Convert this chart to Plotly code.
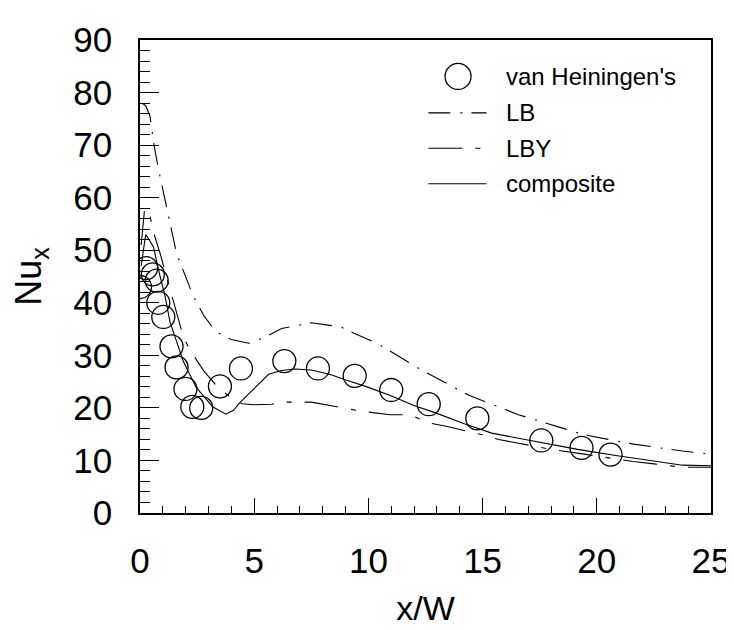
import plotly.graph_objects as go

# van Heiningen's data (circles)
vh_x = [0.0, 0.27, 0.56, 0.73, 0.8, 1.02, 1.38, 1.6, 1.99, 2.29, 2.68, 3.5, 4.42,
        6.32, 7.79, 9.4, 11.0, 12.64, 14.77, 17.57, 19.33, 20.6]
vh_y = [43.0, 46.6, 45.4, 44.2, 40.0, 37.3, 31.7, 27.7, 23.6, 20.2, 20.0, 24.1, 27.5,
        28.9, 27.5, 26.1, 23.4, 20.7, 18.0, 13.8, 12.4, 11.1]

# LB (dash-dot)
lb_x = [0.09, 0.25, 0.44, 0.59, 0.8, 1.17, 1.6, 2.32, 2.8, 3.32, 4.0, 4.76, 5.5, 6.2,
        7.5, 8.8, 9.37, 10.38, 12.25, 14.4, 16.57, 19.44, 21.6, 23.76, 25.0]
lb_y = [78.0, 77.5, 75.5, 70.6, 65.6, 58.2, 49.4, 41.4, 37.5, 34.5, 33.0, 32.3, 33.5, 35.1,
        36.2, 35.4, 34.2, 32.3, 27.4, 22.4, 18.7, 14.9, 13.1, 11.8, 11.2]

# LBY (long dash - short dash)
lby_x = [0.05, 0.2, 0.4, 0.55, 0.88, 1.38, 1.89, 2.17, 2.8, 3.47, 4.05, 4.47, 5.0, 5.77,
         6.35, 7.5, 8.06, 9.0, 9.8, 10.95, 11.8, 12.68, 13.4, 14.98, 15.7, 18.0, 19.44,
         21.6, 22.6, 23.76, 25.0]
lby_y = [51.0, 57.8, 57.5, 54.0, 49.4, 41.4, 33.6, 31.1, 27.0, 23.6, 21.8, 20.8, 20.6, 20.7,
         21.1, 21.1, 20.6, 19.9, 19.3, 18.7, 18.7, 17.1, 16.5, 14.9, 14.0, 12.1, 11.2,
         9.8, 9.3, 8.7, 8.7]

# composite (solid)
comp_x = [0.05, 0.25, 0.4, 0.59, 0.88, 1.09, 1.31, 1.89, 2.46, 3.18, 3.76, 4.11, 4.33, 4.76,
          5.2, 5.63, 6.2, 6.78, 7.5, 8.3, 9.08, 10.0, 11.1, 11.96, 12.97, 14.2, 15.4,
          17.28, 19.16, 20.9, 22.3, 23.76, 25.0]
comp_y = [47.0, 53.0, 52.0, 50.6, 45.0, 41.4, 36.4, 28.9, 23.9, 20.2, 18.8, 19.6, 20.8, 22.7,
          24.7, 26.4, 27.1, 27.4, 27.2, 26.4, 25.2, 23.9, 22.1, 20.5, 19.0, 17.0, 15.2,
          13.7, 12.1, 10.9, 10.0, 9.1, 9.0]

names = ["van Heiningen's", 'LB', 'LBY', 'composite']
dashes = [None, '22px,10px,2px,9px', '34px,13px,5px,13px', 'solid']

fig = go.Figure()
fig.add_trace(go.Scatter(x=vh_x, y=vh_y, mode='markers', name=names[0],
                         marker=dict(symbol='circle-open', size=23, color='black',
                                     line=dict(width=1.3, color='black'))))
fig.add_trace(go.Scatter(x=lb_x, y=lb_y, mode='lines', name=names[1],
                         line=dict(color='black', width=1.1, dash=dashes[1])))
fig.add_trace(go.Scatter(x=lby_x, y=lby_y, mode='lines', name=names[2],
                         line=dict(color='black', width=1.1, dash=dashes[2])))
fig.add_trace(go.Scatter(x=comp_x, y=comp_y, mode='lines', name=names[3],
                         line=dict(color='black', width=1.1)))

# hand-made legend (longer line samples than plotly's own legend allows)
leg_rows = [0.923, 0.846, 0.771, 0.696]
fig.add_shape(type='circle', xref='paper', yref='paper', xsizemode='pixel', ysizemode='pixel',
              xanchor=0.557, yanchor=leg_rows[0], x0=-13, x1=13, y0=-13, y1=13,
              line=dict(color='black', width=1.3))
for i in range(1, 4):
    fig.add_shape(type='line', xref='paper', yref='paper', x0=0.505, x1=0.607,
                  y0=leg_rows[i], y1=leg_rows[i], line=dict(color='black', width=1.1, dash=dashes[i]))
for i, nm in enumerate(names):
    fig.add_annotation(x=0.637, y=leg_rows[i], xref='paper', yref='paper', text=nm,
                       showarrow=False, xanchor='left', yanchor='middle',
                       font=dict(family='Liberation Sans, Arial', size=24, color='black'))

tick_font = dict(family='Liberation Sans, Arial', size=35, color='black')

fig.update_layout(
    width=734, height=630,
    margin=dict(l=132, r=24, t=25, b=125),
    plot_bgcolor='white', paper_bgcolor='white',
    showlegend=False,
    xaxis=dict(range=[0, 25], dtick=5, tick0=0, showgrid=False, zeroline=False,
               showline=True, linecolor='black', linewidth=1.5, mirror=True,
               ticks='inside', ticklen=15, tickwidth=1.2, tickcolor='black',
               minor=dict(dtick=1, ticks='inside', ticklen=7, tickwidth=1.2, tickcolor='black'),
               tickfont=tick_font, ticklabelstandoff=16,
               title=dict(text='x/W', font=dict(family='Liberation Sans, Arial', size=34,
                                                color='black'), standoff=17)),
    yaxis=dict(range=[0, 90], dtick=10, tick0=0, showgrid=False, zeroline=False,
               showline=True, linecolor='black', linewidth=1.5, mirror=True,
               ticks='inside', ticklen=19, tickwidth=1.2, tickcolor='black',
               minor=dict(dtick=2, ticks='inside', ticklen=10, tickwidth=1.2, tickcolor='black'),
               tickfont=tick_font, ticklabelstandoff=19,
               title=dict(text='Nu<sub>x</sub>', font=dict(family='Liberation Sans, Arial',
                                                           size=36, color='black'), standoff=22)),
)

fig.write_html('out.html')
